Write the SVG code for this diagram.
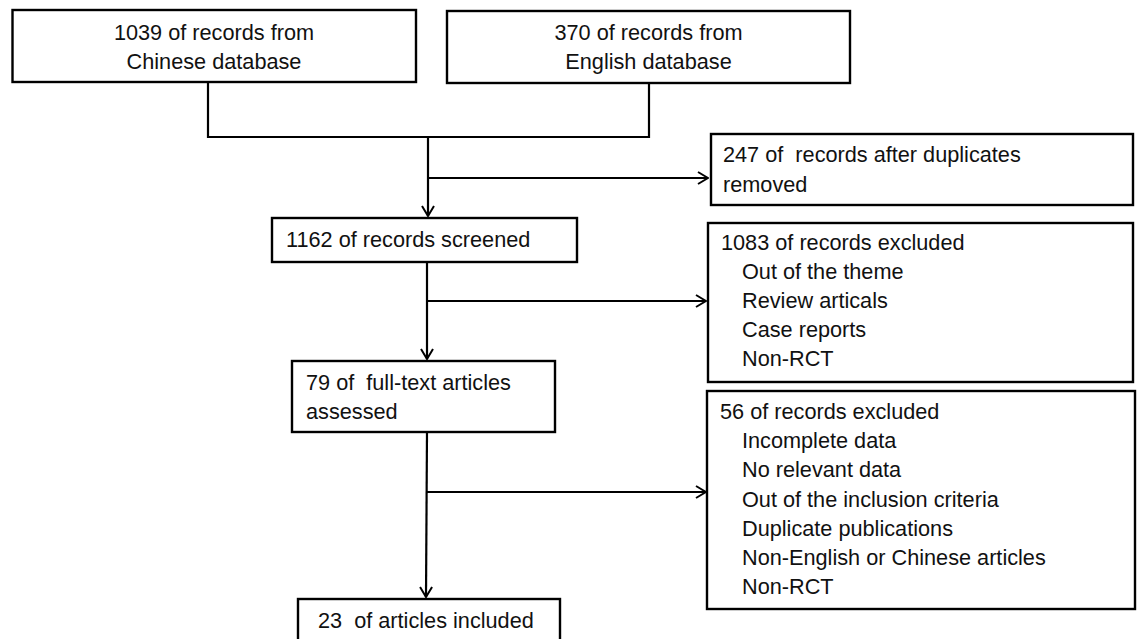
<svg xmlns="http://www.w3.org/2000/svg" width="1138" height="639" viewBox="0 0 1138 639">
<style>
  .box { fill: #ffffff; stroke: #000000; stroke-width: 2.4; }
  .t { font-family: "Liberation Sans", Arial, sans-serif; font-size: 21.7px; fill: #111111; white-space: pre; }
  .c { text-anchor: middle; }
  .ln { fill: none; stroke: #000000; stroke-width: 2.2; }
</style>
<defs>
  <marker id="arr" viewBox="0 0 12 14" refX="11" refY="7" markerWidth="12" markerHeight="14" markerUnits="userSpaceOnUse" orient="auto">
    <path d="M1,1 L11,7 L1,13" fill="none" stroke="#000" stroke-width="2"/>
  </marker>
</defs>
<rect width="1138" height="639" fill="#ffffff"/>

<g id="connectors">
  <path class="ln" d="M208,82 V137 H649 V83"/>
  <path class="ln" d="M428,137 V216" marker-end="url(#arr)"/>
  <path class="ln" d="M428,178 H708" marker-end="url(#arr)"/>
  <path class="ln" d="M427,262 V359" marker-end="url(#arr)"/>
  <path class="ln" d="M427,301 H706" marker-end="url(#arr)"/>
  <path class="ln" d="M427,432 L426,597" marker-end="url(#arr)"/>
  <path class="ln" d="M427,492 H706" marker-end="url(#arr)"/>
</g>

<g id="node-chinese">
  <rect class="box" x="12.5" y="10" width="403.5" height="72"/>
  <text class="t c" x="214" y="40">1039 of records from</text>
  <text class="t c" x="214" y="69">Chinese database</text>
</g>

<g id="node-english">
  <rect class="box" x="447" y="11" width="403" height="72"/>
  <text class="t c" x="648.5" y="40">370 of records from</text>
  <text class="t c" x="648.5" y="69">English database</text>
</g>

<g id="node-duplicates">
  <rect class="box" x="711" y="134" width="422" height="71"/>
  <text class="t" x="723" y="162">247 of  records after duplicates</text>
  <text class="t" x="723" y="192">removed</text>
</g>

<g id="node-screened">
  <rect class="box" x="272" y="218" width="305" height="44"/>
  <text class="t" x="286" y="247">1162 of records screened</text>
</g>

<g id="node-excluded1">
  <rect class="box" x="708" y="223" width="425" height="159"/>
  <text class="t" x="721" y="250">1083 of records excluded</text>
  <text class="t" x="742" y="279">Out of the theme</text>
  <text class="t" x="742" y="308">Review articals</text>
  <text class="t" x="742" y="337">Case reports</text>
  <text class="t" x="742" y="366">Non-RCT</text>
</g>

<g id="node-fulltext">
  <rect class="box" x="292" y="361" width="263" height="71"/>
  <text class="t" x="306" y="390">79 of  full-text articles</text>
  <text class="t" x="306" y="419">assessed</text>
</g>

<g id="node-excluded2">
  <rect class="box" x="707" y="391" width="428" height="218"/>
  <text class="t" x="720" y="419">56 of records excluded</text>
  <text class="t" x="742" y="448">Incomplete data</text>
  <text class="t" x="742" y="477">No relevant data</text>
  <text class="t" x="742" y="507">Out of the inclusion criteria</text>
  <text class="t" x="742" y="536">Duplicate publications</text>
  <text class="t" x="742" y="565">Non-English or Chinese articles</text>
  <text class="t" x="742" y="594">Non-RCT</text>
</g>

<g id="node-included">
  <rect class="box" x="298" y="599" width="262" height="45"/>
  <text class="t" x="318" y="628">23  of articles included</text>
</g>
</svg>
